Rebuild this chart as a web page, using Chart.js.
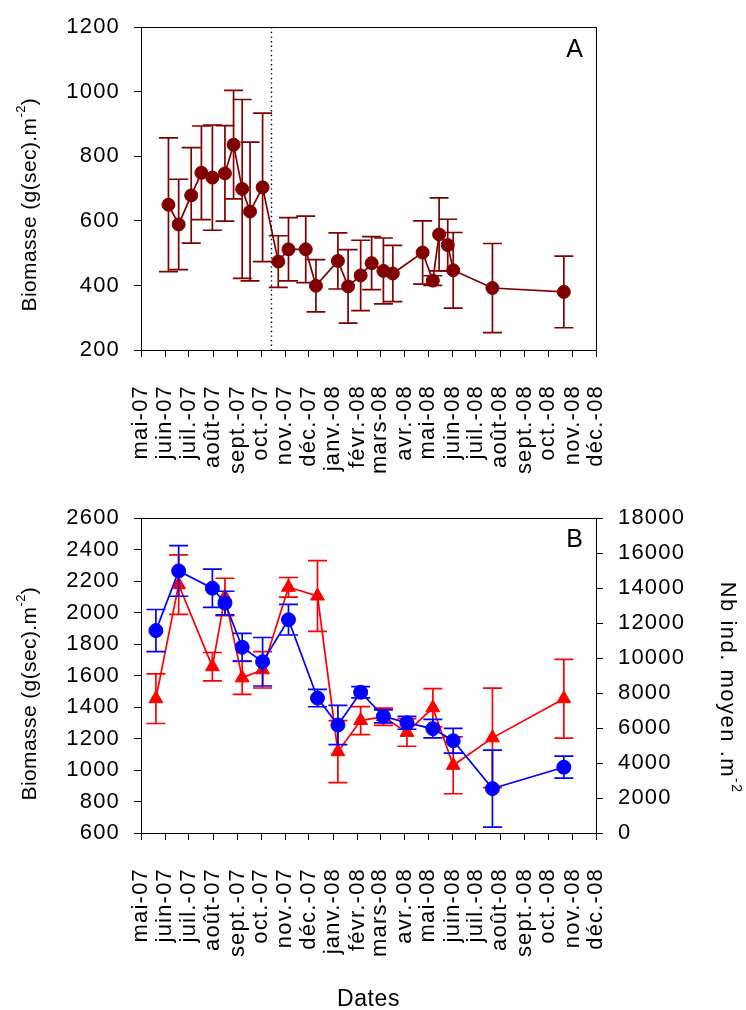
<!DOCTYPE html>
<html>
<head>
<meta charset="utf-8">
<script src="https://cdn.jsdelivr.net/npm/chart.js@4.4.1/dist/chart.umd.min.js"></script>
<style>
  html, body { margin: 0; padding: 0; background: #fff; }
  #wrap { position: relative; width: 746px; height: 1010px; }
  canvas { position: absolute; left: 0; }
  #chartA { top: 0; }
  #chartB { top: 490px; }
</style>
</head>
<body>
<div id="wrap">
  <canvas id="chartA" width="746" height="490"></canvas>
  <canvas id="chartB" width="746" height="520"></canvas>
</div>
<script>
// Month ticks on the date axis
const monthStarts = ['2007-05-01', '2007-06-01', '2007-07-01', '2007-08-01', '2007-09-01', '2007-10-01',
  '2007-11-01', '2007-12-01', '2008-01-01', '2008-02-01', '2008-03-01', '2008-04-01', '2008-05-01',
  '2008-06-01', '2008-07-01', '2008-08-01', '2008-09-01', '2008-10-01', '2008-11-01', '2008-12-01'];
const monthLabels = ['mai-07', 'juin-07', 'juil.-07', 'août-07', 'sept.-07', 'oct.-07', 'nov.-07', 'déc.-07',
  'janv.-08', 'févr.-08', 'mars-08', 'avr.-08', 'mai-08', 'juin-08', 'juil.-08', 'août-08', 'sept.-08',
  'oct.-08', 'nov.-08', 'déc.-08'];

// Panel A : biomasse moyenne et écart-type
const datesA = ['2007-06-05', '2007-06-18', '2007-07-04', '2007-07-17', '2007-07-31', '2007-08-16',
  '2007-08-27', '2007-09-07', '2007-09-17', '2007-10-03', '2007-10-23', '2007-11-05', '2007-11-27',
  '2007-12-10', '2008-01-07', '2008-01-20', '2008-02-05', '2008-02-19', '2008-03-05', '2008-03-17',
  '2008-04-24', '2008-05-07', '2008-05-15', '2008-05-26', '2008-06-02', '2008-07-22', '2008-10-21'];
const biomassA = [650, 589, 679, 749, 734, 747, 836, 699, 629, 704, 474, 512, 512, 399, 476, 397, 431,
  469, 445, 437, 502, 415, 558, 525, 447, 392, 380];
const sdA = [207, 140, 148, 145, 163, 148, 168, 277, 215, 230, 80, 98, 103, 81, 87, 114, 109, 82, 102,
  87, 98, 15, 113, 80, 117, 138, 111];
const cutDate = '2007-10-14';

// Panel B : biomasse et densité
const datesB = ['2007-05-20', '2007-06-18', '2007-07-31', '2007-08-16', '2007-09-07', '2007-10-03',
  '2007-11-05', '2007-12-12', '2008-01-07', '2008-02-05', '2008-03-05', '2008-04-04', '2008-05-07',
  '2008-06-02', '2008-07-22', '2008-10-21'];
const biomassB = [1886, 2265, 2155, 2061, 1780, 1688, 1955, 1457, 1286, 1494, 1341, 1300, 1263, 1186, 882, 1018];
const sdBiomassB = [134, 161, 122, 75, 88, 154, 97, 55, 125, 36, 41, 41, 59, 79, 245, 70];
const densityB = [7680, 14200, 9510, 13500, 8870, 9330, 14050, 13550, 4650, 6430, 6650, 5750, 7160,
  3870, 5440, 7680];
const sdDensityB = [1420, 1700, 810, 1065, 945, 1040, 560, 2020, 1775, 800, 495, 790, 1095, 1625, 2840, 2250];

const FONT = '"Liberation Sans", Arial, Helvetica, sans-serif';
const origin = Date.UTC(2007, 4, 1);

function dayOf(s) {
  const p = s.split('-').map(Number);
  return (Date.UTC(p[0], p[1] - 1, p[2]) - origin) / 86400000;
}

function points(dates, values) {
  return dates.map((d, i) => ({ x: dayOf(d), y: values[i] }));
}

Chart.defaults.font.family = FONT;
Chart.defaults.font.size = 22;
Chart.defaults.color = '#000';

// wide lettering for tick labels
const spacing = {
  id: 'spacing',
  beforeUpdate(chart) { chart.ctx.letterSpacing = '1.2px'; },
  beforeDraw(chart) { chart.ctx.letterSpacing = '1.2px'; }
};

// vertical error bars with caps
const errorBars = {
  id: 'errorBars',
  beforeDatasetDraw(chart, args) {
    const ds = chart.data.datasets[args.index];
    if (!ds.errors) return;
    const meta = args.meta;
    const yScale = chart.scales[meta.yAxisID];
    const ctx = chart.ctx;
    const cap = 9.5;
    ctx.save();
    ctx.strokeStyle = ds.borderColor;
    ctx.lineWidth = 1.7;
    ds.data.forEach((pt, i) => {
      const x = meta.data[i].x;
      const top = yScale.getPixelForValue(pt.y + ds.errors[i]);
      const bot = yScale.getPixelForValue(pt.y - ds.errors[i]);
      ctx.beginPath();
      ctx.moveTo(x, top); ctx.lineTo(x, bot);
      ctx.moveTo(x - cap, top); ctx.lineTo(x + cap, top);
      ctx.moveTo(x - cap, bot); ctx.lineTo(x + cap, bot);
      ctx.stroke();
    });
    ctx.restore();
  }
};

function drawRich(ctx, parts, cx, cy, angle, size, ls) {
  ctx.save();
  ctx.translate(cx, cy);
  ctx.rotate(angle);
  ctx.fillStyle = '#000';
  ctx.textBaseline = 'alphabetic';
  ctx.textAlign = 'left';
  ctx.letterSpacing = ls + 'px';
  const fontFor = p => (p.sup ? Math.round(size * 0.62) : size) + 'px ' + FONT;
  let total = 0;
  const widths = parts.map(p => {
    ctx.font = fontFor(p);
    const w = ctx.measureText(p.text).width;
    total += w;
    return w;
  });
  let x = -total / 2;
  const base = size * 0.36;
  parts.forEach((p, i) => {
    ctx.font = fontFor(p);
    ctx.fillText(p.text, x, p.sup ? base - size * 0.48 : base);
    x += widths[i];
  });
  ctx.restore();
}

const biomassTitle = [{ text: 'Biomasse (g(sec).m' }, { text: '-2', sup: true }, { text: ')' }];
const densityTitle = [{ text: 'Nb ind. moyen .m' }, { text: '-2', sup: true }];

function frame(chart) {
  const a = chart.chartArea;
  const ctx = chart.ctx;
  ctx.save();
  ctx.strokeStyle = '#000';
  ctx.lineWidth = 1;
  ctx.strokeRect(Math.round(a.left) + 0.5, Math.round(a.top) + 0.5,
    Math.round(a.right - a.left), Math.round(a.bottom - a.top));
  ctx.restore();
}

function panelLetter(chart, letter, dy) {
  const a = chart.chartArea;
  const ctx = chart.ctx;
  ctx.save();
  ctx.letterSpacing = '0px';
  ctx.font = '25px ' + FONT;
  ctx.fillStyle = '#000';
  ctx.textAlign = 'right';
  ctx.textBaseline = 'alphabetic';
  ctx.fillText(letter, a.right - 13, a.top + dy);
  ctx.restore();
}

function dateAxis(height) {
  return {
    type: 'linear',
    min: dayOf(monthStarts[0]),
    max: dayOf(monthStarts[monthStarts.length - 1]),
    afterBuildTicks: axis => { axis.ticks = monthStarts.map(d => ({ value: dayOf(d) })); },
    afterFit: axis => { axis.height = height; },
    grid: { drawOnChartArea: false, drawTicks: true, tickLength: 7, color: '#000', lineWidth: 1 },
    border: { display: true, color: '#000', width: 1 },
    ticks: {
      autoSkip: false, minRotation: 90, maxRotation: 90, padding: 28, color: '#000',
      callback: (v, i) => monthLabels[i]
    }
  };
}

function valueAxis(position, min, max, step, width) {
  return {
    type: 'linear',
    position: position,
    min: min,
    max: max,
    afterFit: axis => { axis.width = width; },
    grid: { drawOnChartArea: false, drawTicks: true, tickLength: 7, color: '#000', lineWidth: 1 },
    border: { display: true, color: '#000', width: 1 },
    ticks: { stepSize: step, padding: position === 'left' ? 14 : 15, color: '#000', callback: v => String(v) }
  };
}

const panelA = {
  id: 'panelA',
  afterDatasetsDraw(chart) {
    const a = chart.chartArea;
    const ctx = chart.ctx;
    const x = Math.round(chart.scales.x.getPixelForValue(dayOf(cutDate))) + 0.5;
    ctx.save();
    ctx.strokeStyle = '#000';
    ctx.lineWidth = 1.4;
    ctx.setLineDash([1.4, 3.2]);
    ctx.beginPath();
    ctx.moveTo(x, a.top);
    ctx.lineTo(x, a.bottom);
    ctx.stroke();
    ctx.restore();
  },
  afterDraw(chart) {
    const a = chart.chartArea;
    frame(chart);
    panelLetter(chart, 'A', 30);
    drawRich(chart.ctx, biomassTitle, 28, (a.top + a.bottom) / 2 + 16, -Math.PI / 2, 21, 0.4);
  }
};

const panelB = {
  id: 'panelB',
  afterDraw(chart) {
    const a = chart.chartArea;
    frame(chart);
    panelLetter(chart, 'B', 29);
    drawRich(chart.ctx, biomassTitle, 28, (a.top + a.bottom) / 2 + 18, -Math.PI / 2, 21, 0.4);
    drawRich(chart.ctx, densityTitle, 729, (a.top + a.bottom) / 2 + 12, Math.PI / 2, 22, 1.5);
    drawRich(chart.ctx, [{ text: 'Dates' }], (a.left + a.right) / 2, 508, 0, 23, 0.6);
  }
};

const common = {
  responsive: false,
  animation: false,
  devicePixelRatio: 1,
  events: [],
  plugins: { legend: { display: false }, tooltip: { enabled: false } }
};

new Chart(document.getElementById('chartA'), {
  type: 'line',
  data: {
    datasets: [{
      data: points(datesA, biomassA),
      errors: sdA,
      borderColor: '#800000',
      backgroundColor: '#800000',
      borderWidth: 1.7,
      pointStyle: 'circle',
      pointRadius: 6.5,
      pointBorderWidth: 1,
      tension: 0
    }]
  },
  options: Object.assign({}, common, {
    layout: { padding: { top: 23, right: 150, left: 0, bottom: 0 } },
    scales: {
      x: dateAxis(140),
      y: valueAxis('left', 200, 1200, 200, 141)
    }
  }),
  plugins: [spacing, errorBars, panelA]
});

new Chart(document.getElementById('chartB'), {
  type: 'line',
  data: {
    datasets: [{
      data: points(datesB, biomassB),
      errors: sdBiomassB,
      yAxisID: 'y',
      borderColor: '#0000ff',
      backgroundColor: '#0000ff',
      borderWidth: 1.7,
      pointStyle: 'circle',
      pointRadius: 7,
      pointBorderWidth: 1,
      tension: 0
    }, {
      data: points(datesB, densityB),
      errors: sdDensityB,
      yAxisID: 'y1',
      borderColor: '#ff0000',
      backgroundColor: '#ff0000',
      borderWidth: 1.7,
      pointStyle: 'triangle',
      pointRadius: 8,
      pointBorderWidth: 1,
      tension: 0
    }]
  },
  options: Object.assign({}, common, {
    layout: { padding: { top: 16, right: 0, left: 0, bottom: 0 } },
    scales: {
      x: dateAxis(177),
      y: valueAxis('left', 600, 2600, 200, 141),
      y1: valueAxis('right', 0, 18000, 2000, 150)
    }
  }),
  plugins: [spacing, errorBars, panelB]
});
</script>
</body>
</html>
